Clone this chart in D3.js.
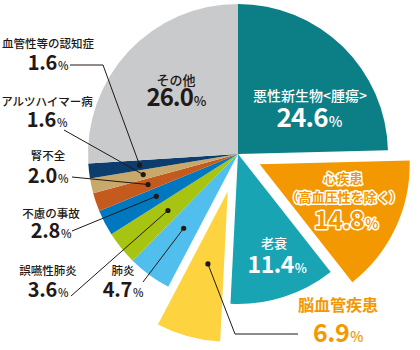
<!DOCTYPE html>
<html><head><meta charset="utf-8">
<script src="https://cdn.jsdelivr.net/npm/d3@7"></script>
<style>html,body{margin:0;padding:0;background:#fff;}svg{display:block;}</style>
</head><body>
<svg id="c" width="420" height="350"></svg>
<script>
// ---- data ----
const categories = ["悪性新生物<腫瘍>","心疾患（高血圧性を除く）","老衰","脳血管疾患","肺炎","誤嚥性肺炎","不慮の事故","腎不全","アルツハイマー病","血管性等の認知症","その他"];
const values = [24.6,14.8,11.4,6.9,4.7,3.6,2.8,2.0,1.6,1.6,26.0];
const valueLabels = ["24.6","14.8","11.4","6.9","4.7","3.6","2.8","2.0","1.6","1.6","26.0"];
const colors = ["#0c7e86","#f39800","#19a4b4","#fdd440","#50bfee","#a8c412","#0078bf","#c55a1e","#c9a86b","#0b3e6e","#c9cacb"];

// ---- layout ----
const cx = 238, cy = 154, R = 150;
const explode = {1: 24, 3: 39};
const ink = "#231815";
const svg = d3.select("#c");
const g = svg.append("g").attr("transform", `translate(${cx},${cy})`);
const pie = d3.pie().sort(null).value(d => d)(values);
const arc = d3.arc().innerRadius(0).outerRadius(R);
function off(d){
  const k = explode[d.index] || 0, a = (d.startAngle + d.endAngle)/2;
  return [k*Math.sin(a), -k*Math.cos(a)];
}
g.selectAll("path.s").data(pie).join("path")
  .attr("class","s")
  .attr("d", arc)
  .attr("fill", (d,i) => colors[i])
  .attr("transform", d => `translate(${off(d)})`);

// leader lines + dots for outside labels
const dotR = {3:75,4:92,5:90,6:92,7:95,8:97,9:99};
const leaders = {
  9: [[70,65],[103,65]],
  8: [[64,130]],
  7: [[72,177]],
  6: [[72,231]],
  5: [[71,296]],
  4: [[143,282]],
  3: [[298,334],[235,334]]
};
const lg = svg.append("g");
Object.keys(leaders).forEach(k => {
  const d = pie[+k];
  const r = dotR[k];
  const c = d3.arc().innerRadius(r).outerRadius(r).centroid(d);
  const o = off(d);
  const p = [c[0]+o[0]+cx, c[1]+o[1]+cy];
  const pts = leaders[k].concat([p]);
  lg.append("path").attr("d", d3.line()(pts)).attr("fill","none").attr("stroke",ink).attr("stroke-width",1);
  lg.append("circle").attr("cx",p[0]).attr("cy",p[1]).attr("r",2.6).attr("fill",ink);
});

const font = "'Noto Sans CJK JP','Noto Sans',sans-serif";
function name(x,y,t,size,fill,outline){
  const e = svg.append("text").attr("x",x).attr("y",y).attr("text-anchor","middle")
    .attr("font-family",font).attr("font-size",size).attr("font-weight",outline?700:500).attr("fill",fill).text(t);
  if(outline) e.attr("stroke","#fff").attr("stroke-width",3).attr("stroke-linejoin","round").attr("paint-order","stroke");
  return e;
}
function val(x,y,t,size,fill,outline,ls){
  const e = svg.append("text").attr("x",x).attr("y",y).attr("text-anchor","middle")
    .attr("font-family",font).attr("font-weight",700).attr("fill",fill)
    .attr("letter-spacing", ls||0);
  e.append("tspan").attr("font-size",size).text(t);
  e.append("tspan").attr("font-size",size*0.56).attr("font-weight",500).attr("dx",1).text("%");
  if(outline) e.attr("stroke","#fff").attr("stroke-width",3).attr("stroke-linejoin","round").attr("paint-order","stroke");
  return e;
}
// inside labels
name(310,101,categories[0],14,"#fff");
val(309,127,valueLabels[0],26,"#fff",false,-0.8);
name(176,85,categories[10],13,ink);
val(176,106,valueLabels[10],24,ink,false,-1);
name(274,248,categories[2],13,"#fff");
val(277,273,valueLabels[2],23,"#fff",false,-0.5);
name(343,183,"心疾患",13,"#f39800",true);
name(344,202,"（高血圧性を除く）",13,"#f39800",true);
val(346,229,valueLabels[1],25,"#f39800",true,-0.5);
name(338,311,"脳血管疾患",16,"#f39800",true);
val(338,342,valueLabels[3],25,"#f39800",true,-0.5);
// outside labels
const outPos = {9:[48,48,70],8:[47,106,127],7:[48,160,183],6:[51,218,238],5:[48,275,297],4:[123,275,297]};
Object.keys(outPos).forEach(k => {
  const [x,y1,y2] = outPos[k];
  name(x,y1,categories[+k],11.5,ink);
  val(x,y2,valueLabels[+k],20,ink,false,-0.3);
});
</script>
</body></html>
